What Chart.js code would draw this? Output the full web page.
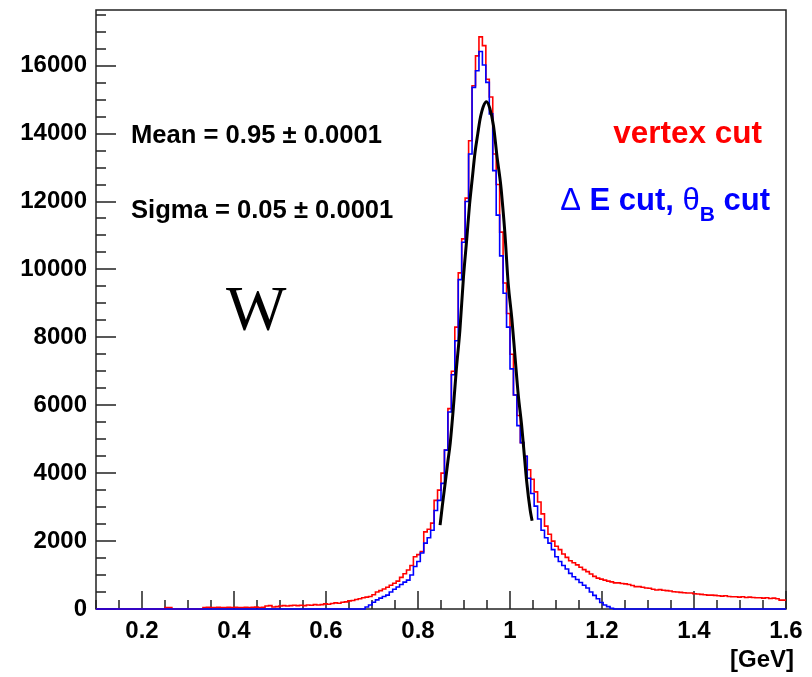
<!DOCTYPE html>
<html>
<head>
<meta charset="utf-8">
<script src="https://cdn.jsdelivr.net/npm/chart.js@4.4.1/dist/chart.umd.min.js"></script>
<style>
body { margin: 0; background: #fff; }
#wrap { width: 812px; height: 677px; }
</style>
</head>
<body>
<div id="wrap"><canvas id="grafico" width="812" height="677"></canvas></div>
<script>
// binning del histograma W (200 bins de 0.1 a 1.6 GeV)
const xStart = 0.1;
const binWidth = 0.0075;

// vertex cut (rojo)
const redCounts = [
  0, 0, 0, 0, 0, 0, 0, 0, 0, 0, 0, 0, 0, 0, 0, 0, 0, 0, 0, 0, 0,
  40, 40,
  0, 0, 0, 0, 0, 0, 0, 0, 0,
  45, 50, 40, 45, 50, 45, 40, 50, 45, 50, 45, 40, 50, 45, 50, 55, 45, 50,
  90, 100, 60, 70, 90, 100, 90, 100, 110, 100, 110, 100, 120, 110, 130, 120, 130, 150, 140, 160,
  180, 170, 200, 210, 240, 250, 280, 300, 330, 350, 370, 420, 500, 540, 590, 640, 700, 760, 820, 930,
  1040, 1150, 1280, 1540, 1600, 1690, 2270, 2350, 2530, 3200, 3500, 4000, 4680,
  5900, 7000, 8300, 9900, 10900, 12100, 13790, 15410, 16290, 16850, 16590, 15600, 15080, 13400,
  12500, 11100, 9600, 8700, 7500, 6300, 5700,
  4900, 4500, 4100, 3820, 3450, 3150, 2800, 2440, 2200, 2000, 1850, 1750, 1620, 1520, 1420, 1360,
  1300, 1230, 1160, 1100, 1030, 960, 910, 880, 850, 820, 800, 770, 770, 750, 740, 720, 690, 660,
  660, 640, 620, 610, 580, 560, 570, 550, 540, 530, 510, 500, 490, 480, 470, 470, 450, 440, 430,
  420, 410, 410, 400, 390, 380, 390, 370, 360, 360, 350, 360, 340, 350, 340, 330, 330, 320, 330,
  310, 320, 300, 260
];

// ΔE cut, θB cut (azul)
const blueCounts = [
  0, 0, 0, 0, 0, 0, 0, 0, 0, 0, 0, 0, 0, 0, 0, 0, 0, 0, 0, 0,
  0, 0, 0, 0, 0, 0, 0, 0, 0, 0, 0, 0, 0, 0, 0, 0, 0, 0, 0, 0,
  0, 0, 0, 0, 0, 0, 0, 0, 0, 0, 0, 0, 0, 0, 0, 0, 0, 0, 0, 0,
  0, 0, 0, 0, 0, 0, 0, 0, 0, 0, 0, 0, 0, 0, 0, 0, 0, 0, 0,
  60, 120, 200, 270, 320, 370, 410, 500, 580, 650, 720, 790, 850, 1000, 1250, 1400, 1650, 1940,
  2100, 2320, 2900, 3200, 3700, 4680,
  5800, 6900, 7900, 9700, 10800, 12000, 13400, 15360, 15850, 16420, 16020, 15510, 14580, 12910,
  11600, 10400, 9300, 8300, 7070, 6300, 5400, 4900, 4500, 3850, 3400, 3030, 2650, 2320, 2100,
  1940, 1750, 1540, 1400, 1280, 1180, 1050, 950, 870, 780, 700, 620, 500, 400, 300, 190, 120, 70, 20,
  0, 0, 0, 0, 0, 0, 0, 0, 0, 0, 0, 0, 0, 0, 0, 0, 0, 0, 0, 0,
  0, 0, 0, 0, 0, 0, 0, 0, 0, 0, 0, 0, 0, 0, 0, 0, 0, 0, 0, 0,
  0, 0, 0, 0, 0, 0, 0, 0, 0
];

// ajuste gaussiano (negro)
const fitX = [0.848, 0.853, 0.859, 0.865, 0.870, 0.877, 0.883, 0.891, 0.899, 0.906, 0.912, 0.918,
  0.924, 0.930, 0.935, 0.942, 0.949, 0.956, 0.964, 0.972, 0.980, 0.984, 0.989, 0.996, 1.004,
  1.011, 1.018, 1.025, 1.030, 1.036, 1.044, 1.048];
const fitY = [2470, 3050, 3700, 4350, 4880, 5950, 7000, 8200, 9800, 10900, 11900, 12680,
  13450, 14000, 14430, 14800, 14940, 14750, 14240, 13300, 12470, 11880, 11050, 9600, 8550,
  7420, 6300, 5450, 4700, 3790, 2900, 2600];

const xTickLabels = [0.2, 0.4, 0.6, 0.8, 1, 1.2, 1.4, 1.6];
const yTickLabels = [0, 2000, 4000, 6000, 8000, 10000, 12000, 14000, 16000];

const fuente = '"Liberation Sans", Arial, sans-serif';

function histPoints(counts) {
    const pts = counts.map((c, i) => ({ x: xStart + i * binWidth, y: c }));
    pts.push({ x: xStart + counts.length * binWidth, y: counts[counts.length - 1] });
    return pts;
}

// marco y ticks hacia adentro, estilo ROOT
const ejes = {
    id: 'ejes',
    beforeDatasetsDraw(chart) {
        const { ctx, chartArea: a, scales: { x, y } } = chart;
        ctx.save();
        ctx.strokeStyle = '#222';
        ctx.lineWidth = 1.5;
        ctx.strokeRect(a.left, a.top, a.right - a.left, a.bottom - a.top);
        ctx.beginPath();
        for (let v = 0; v <= y.max; v += 500) {
            const py = Math.round(y.getPixelForValue(v));
            const len = v % 2000 === 0 ? 20 : 10;
            ctx.moveTo(a.left, py);
            ctx.lineTo(a.left + len, py);
        }
        for (let k = 2; k <= 32; k++) {
            const px = Math.round(x.getPixelForValue(k * 0.05));
            const len = k % 4 === 0 ? 18 : 9;
            ctx.moveTo(px, a.bottom);
            ctx.lineTo(px, a.bottom - len);
        }
        ctx.stroke();
        ctx.restore();
    },
    afterDraw(chart) {
        const ctx = chart.ctx;
        ctx.save();
        ctx.fillStyle = '#000';
        ctx.textAlign = 'left';
        ctx.textBaseline = 'alphabetic';
        ctx.font = 'bold 25.6px ' + fuente;
        ctx.fillText('Mean = 0.95 \u00b1 0.0001', 131, 143);
        ctx.fillText('Sigma = 0.05 \u00b1 0.0001', 131, 218);

        ctx.font = '64px "Liberation Serif", "Times New Roman", serif';
        ctx.fillText('W', 226, 330);

        ctx.textAlign = 'right';
        ctx.font = 'bold 24px ' + fuente;
        ctx.fillText('[GeV]', 794, 667);

        ctx.fillStyle = '#ff0000';
        ctx.font = 'bold 31.5px ' + fuente;
        ctx.fillText('vertex cut', 762, 143);

        // ΔE cut, θ_B cut
        ctx.textAlign = 'left';
        ctx.fillStyle = '#0000ff';
        const partes = [
            { t: '\u0394 ', f: '31px ' + fuente, dy: 0 },
            { t: 'E cut, ', f: 'bold 31px ' + fuente, dy: 0 },
            { t: '\u03b8', f: '31px ' + fuente, dy: 0 },
            { t: 'B', f: 'bold 21px ' + fuente, dy: 11 },
            { t: ' cut', f: 'bold 31px ' + fuente, dy: 0 }
        ];
        let total = 0;
        partes.forEach(p => { ctx.font = p.f; p.w = ctx.measureText(p.t).width; total += p.w; });
        let cx = 770 - total;
        partes.forEach(p => { ctx.font = p.f; ctx.fillText(p.t, cx, 210 + p.dy); cx += p.w; });
        ctx.restore();
    }
};

const config = {
    type: 'line',
    data: {
        datasets: [{
            label: 'Ajuste',
            data: fitX.map((v, i) => ({ x: v, y: fitY[i] })),
            borderColor: '#000',
            borderWidth: 3,
            pointRadius: 0,
            tension: 0.4,
            cubicInterpolationMode: 'monotone',
            clip: 4
        }, {
            label: 'Delta E cut, theta B cut',
            data: histPoints(blueCounts),
            borderColor: '#0000ff',
            borderWidth: 1.6,
            pointRadius: 0,
            stepped: 'after',
            clip: 4
        }, {
            label: 'vertex cut',
            data: histPoints(redCounts),
            borderColor: '#ff0000',
            borderWidth: 1.6,
            pointRadius: 0,
            stepped: 'after',
            clip: 4
        }]
    },
    options: {
        responsive: false,
        animation: false,
        layout: { padding: { top: 10, right: 26, left: 0, bottom: 0 } },
        plugins: {
            legend: { display: false },
            tooltip: { enabled: false }
        },
        scales: {
            x: {
                type: 'linear',
                min: 0.1,
                max: 1.6,
                grid: { display: false },
                border: { display: false },
                afterBuildTicks: s => { s.ticks = xTickLabels.map(v => ({ value: v })); },
                afterFit: s => { s.height = 68; s.paddingLeft = 0; s.paddingRight = 0; },
                ticks: {
                    font: { family: fuente, size: 24, weight: 'bold' },
                    color: '#000',
                    padding: 0,
                    maxRotation: 0,
                    autoSkip: false,
                    callback: v => String(v)
                }
            },
            y: {
                min: 0,
                max: 17640,
                grid: { display: false },
                border: { display: false },
                afterBuildTicks: s => { s.ticks = yTickLabels.map(v => ({ value: v })); },
                afterFit: s => { s.width = 96; s.paddingTop = 0; s.paddingBottom = 0; },
                ticks: {
                    font: { family: fuente, size: 24, weight: 'bold' },
                    color: '#000',
                    padding: 1,
                    callback: v => String(v)
                }
            }
        }
    },
    plugins: [ejes]
};

new Chart(document.getElementById('grafico'), config);
</script>
</body>
</html>
